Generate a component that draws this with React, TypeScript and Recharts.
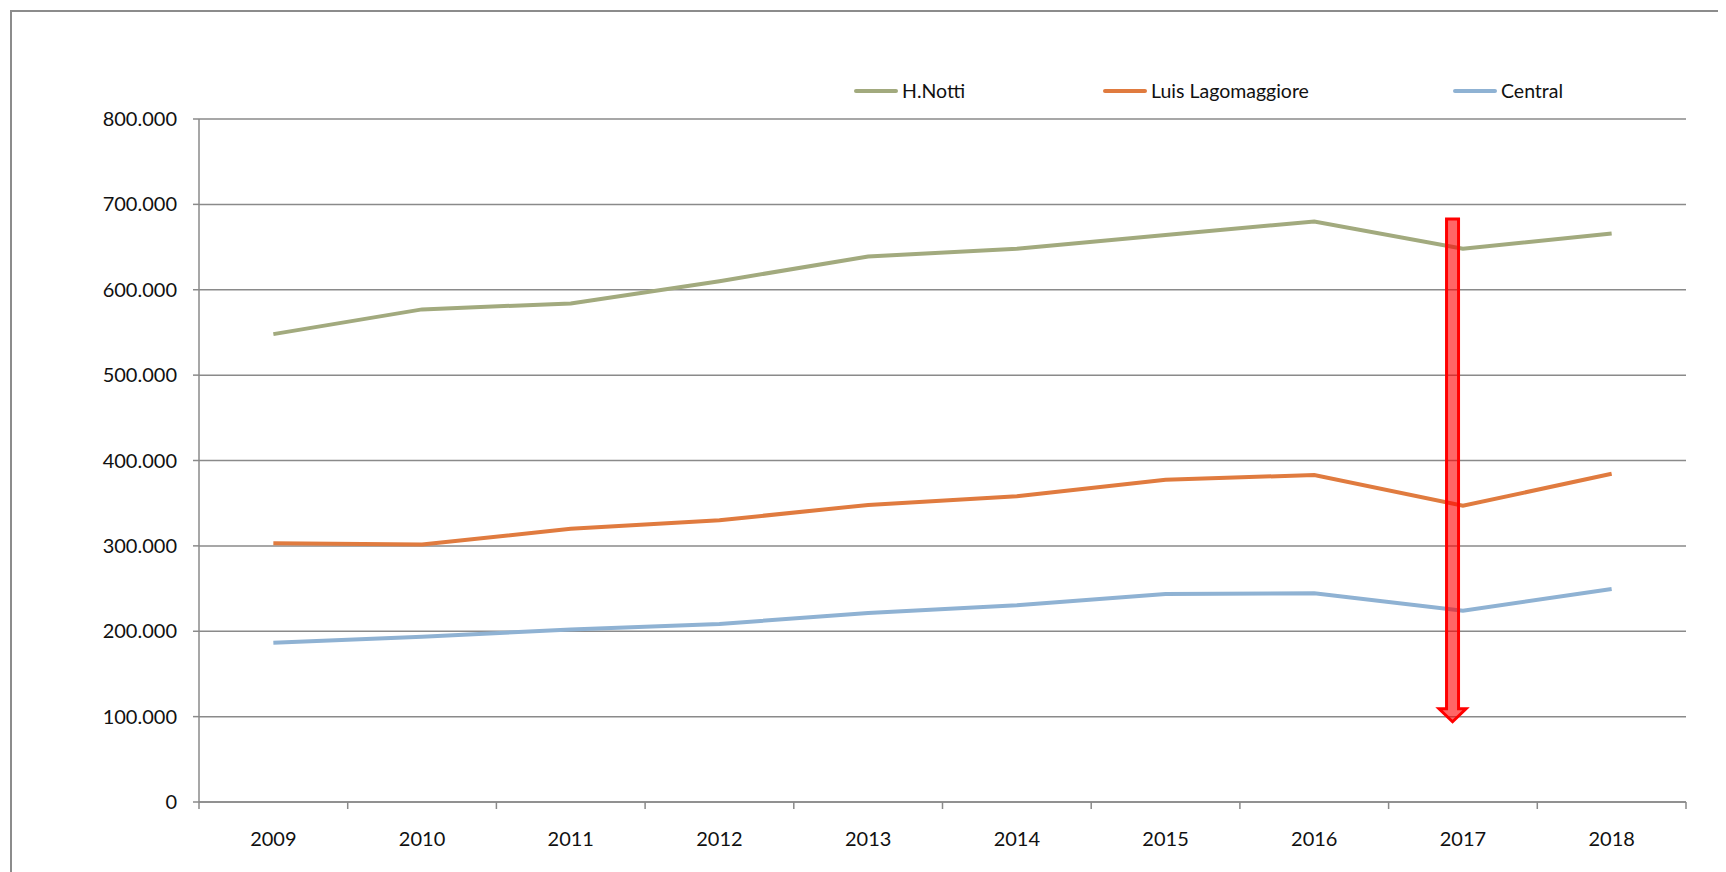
import React from 'react'
import { LineChart, Line, XAxis, YAxis, CartesianGrid, ReferenceLine } from 'recharts'

const years = ['2009', '2010', '2011', '2012', '2013', '2014', '2015', '2016', '2017', '2018']
const hNotti = [548000, 577000, 584000, 610000, 639000, 648000, 664000, 680000, 648000, 666000]
const luisLagomaggiore = [303000, 301500, 320000, 330000, 348000, 358000, 377500, 383000, 347000, 384500]
const central = [186500, 193500, 202000, 208500, 221500, 230500, 243500, 244500, 224000, 249500]
const yTicks = [0, 100000, 200000, 300000, 400000, 500000, 600000, 700000, 800000]
const seriesNames = ['H.Notti', 'Luis Lagomaggiore', 'Central']

// the red arrow annotation (2017, pointing down)
const arrowX = 7.93
const arrowTop = 683000
const arrowBottom = 94000

const colors = ['#A2AA7E', '#E07B3F', '#8FB2D3']
const grid = '#8a8a8a'
const font = 'Lato, "Open Sans", sans-serif'

const data = years.map((y, i) => ({
  i,
  year: y,
  hNotti: hNotti[i],
  luis: luisLagomaggiore[i],
  central: central[i],
}))

const boundaryTicks = years.map((_, i) => i - 0.5).concat(years.length - 0.5)
const centerTicks = years.map((_, i) => i)

const fmt = (v: number) => (v === 0 ? '0' : `${Math.round(v / 1000)}.000`)

function Arrow(props: any) {
  const { x1, y1, y2 } = props
  const x = x1
  const shaft = 6
  const head = 13.5
  const headTop = y2 - 13
  const d = `M${x - shaft},${y1} L${x + shaft},${y1} L${x + shaft},${headTop} L${x + head},${headTop} L${x},${y2} L${x - head},${headTop} L${x - shaft},${headTop} Z`
  return <path d={d} fill="rgba(255,0,0,0.6)" stroke="#ff0000" strokeWidth={3} strokeLinejoin="miter" />
}

function LegendBox() {
  const widths = [249, 350, 120]
  return (
    <div style={{ position: 'absolute', left: 842, top: 67, display: 'flex', fontFamily: font, fontSize: 19.5, color: '#111' }}>
      {seriesNames.map((n, k) => (
        <div key={n} style={{ width: widths[k], display: 'flex', alignItems: 'center' }}>
          <span style={{ display: 'inline-block', width: 44, height: 4, borderRadius: 2, background: colors[k], marginRight: 4 }} />
          <span>{n}</span>
        </div>
      ))}
    </div>
  )
}

export default function App() {
  return (
    <div style={{ position: 'relative', margin: '2px 0 0 2px', width: 1708, height: 880, border: '2px solid #8c8c8c', borderBottom: 'none', background: '#fff' }}>
      <style>{'body{overflow:hidden}'}</style>
      <LegendBox />
      <LineChart width={1708} height={852} data={data} margin={{ top: 107, right: 34, left: 0, bottom: 0 }}>
        <CartesianGrid horizontal vertical={false} stroke={grid} strokeWidth={1.5} xAxisId="b" />
        <XAxis
          xAxisId="b"
          dataKey="i"
          type="number"
          domain={[-0.5, years.length - 0.5]}
          ticks={centerTicks}
          interval={0}
          height={61}
          tickSize={0}
          tickMargin={29}
          tickLine={false}
          axisLine={false}
          tickFormatter={(v: number) => years[v]}
          tick={{ fill: '#111', fontSize: 20, fontFamily: font }}
        />
        <XAxis
          xAxisId="a"
          dataKey="i"
          type="number"
          domain={[-0.5, years.length - 0.5]}
          ticks={boundaryTicks}
          interval={0}
          height={1}
          tickFormatter={() => ''}
          tick={{ fill: 'none', fontSize: 1 }}
          tickSize={7}
          tickLine={{ stroke: grid, strokeWidth: 1.5 }}
          axisLine={{ stroke: grid, strokeWidth: 1.5 }}
        />
        <YAxis
          width={187}
          domain={[0, 800000]}
          ticks={yTicks}
          interval={0}
          tickFormatter={fmt}
          tickSize={6}
          tickMargin={16}
          tickLine={{ stroke: grid, strokeWidth: 1.5 }}
          axisLine={{ stroke: grid, strokeWidth: 1.5 }}
          tick={{ fill: '#111', fontSize: 20, fontFamily: font }}
        />
        <Line xAxisId="b" dataKey="hNotti" name="H.Notti" stroke={colors[0]} strokeWidth={4} dot={false} isAnimationActive={false} />
        <Line xAxisId="b" dataKey="luis" name="Luis Lagomaggiore" stroke={colors[1]} strokeWidth={4} dot={false} isAnimationActive={false} />
        <Line xAxisId="b" dataKey="central" name="Central" stroke={colors[2]} strokeWidth={4} dot={false} isAnimationActive={false} />
        <ReferenceLine
          xAxisId="b"
          segment={[{ x: arrowX, y: arrowTop }, { x: arrowX, y: arrowBottom }]}
          ifOverflow="visible"
          shape={Arrow}
        />
      </LineChart>
    </div>
  )
}
